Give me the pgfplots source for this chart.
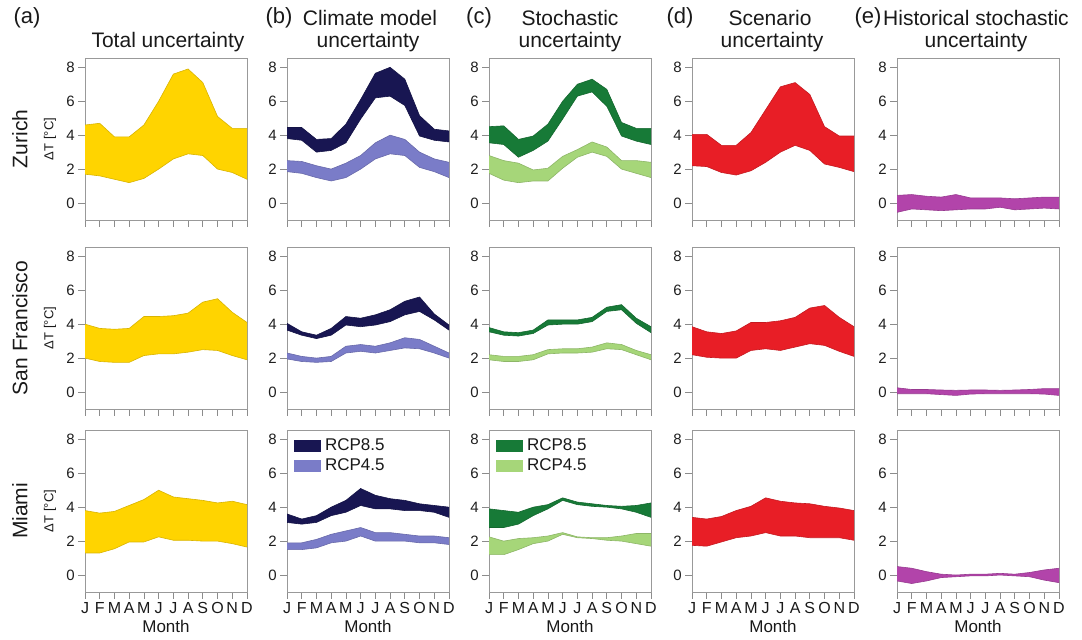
\documentclass[border=0pt]{standalone}
\usepackage{pgfplots}
\pgfplotsset{compat=1.18}
\usepackage{pgfplotstable}
\usepgfplotslibrary{fillbetween}
\usepackage{fontspec}
\setmainfont{Liberation Sans}
\definecolor{cYel}{HTML}{FFD400}
\definecolor{cNavy}{HTML}{181652}
\definecolor{cLBlue}{HTML}{7A7CC8}
\definecolor{cDGreen}{HTML}{177A37}
\definecolor{cLGreen}{HTML}{A6D679}
\definecolor{cRed}{HTML}{E81E26}
\definecolor{cPurp}{HTML}{B244AA}

% ---------------- Zurich ----------------
\pgfplotstableread{
m u l
1 4.6 1.7
2 4.7 1.6
3 3.9 1.4
4 3.9 1.2
5 4.6 1.45
6 6.0 2.0
7 7.6 2.6
8 7.9 2.9
9 7.1 2.8
10 5.1 2.0
11 4.4 1.8
12 4.4 1.4
}\zurA
\pgfplotstableread{
m u l
1 4.45 3.8
2 4.45 3.7
3 3.75 3.0
4 3.8 3.1
5 4.65 3.55
6 6.1 4.95
7 7.65 6.2
8 8.0 6.3
9 7.3 5.75
10 5.15 3.95
11 4.35 3.7
12 4.25 3.6
}\zurBhi
\pgfplotstableread{
m u l
1 2.5 1.85
2 2.45 1.75
3 2.2 1.5
4 2.0 1.3
5 2.35 1.5
6 2.8 2.0
7 3.55 2.6
8 4.0 2.9
9 3.75 2.8
10 3.0 2.1
11 2.6 1.85
12 2.4 1.5
}\zurBlo
\pgfplotstableread{
m u l
1 4.5 3.55
2 4.55 3.45
3 3.75 2.7
4 3.95 3.1
5 4.65 3.65
6 6.0 4.95
7 7.0 6.3
8 7.3 6.55
9 6.7 5.7
10 4.75 3.95
11 4.4 3.65
12 4.4 3.45
}\zurChi
\pgfplotstableread{
m u l
1 2.8 1.75
2 2.5 1.35
3 2.35 1.2
4 1.95 1.3
5 2.05 1.3
6 2.75 2.05
7 3.15 2.7
8 3.6 3.0
9 3.3 2.75
10 2.5 2.0
11 2.5 1.75
12 2.4 1.5
}\zurClo
\pgfplotstableread{
m u l
1 4.05 2.2
2 4.05 2.15
3 3.4 1.8
4 3.4 1.65
5 4.15 1.9
6 5.5 2.4
7 6.85 3.0
8 7.1 3.4
9 6.4 3.1
10 4.5 2.3
11 3.95 2.1
12 3.95 1.85
}\zurD
\pgfplotstableread{
m u l
1 0.45 -0.55
2 0.5 -0.35
3 0.4 -0.4
4 0.35 -0.45
5 0.5 -0.4
6 0.3 -0.35
7 0.3 -0.35
8 0.3 -0.25
9 0.25 -0.4
10 0.3 -0.35
11 0.35 -0.3
12 0.35 -0.35
}\zurE
% ---------------- San Francisco ----------------
\pgfplotstableread{
m u l
1 4.0 2.0
2 3.75 1.8
3 3.7 1.75
4 3.75 1.75
5 4.45 2.15
6 4.45 2.25
7 4.5 2.25
8 4.65 2.35
9 5.3 2.5
10 5.5 2.45
11 4.7 2.15
12 4.1 1.9
}\sfoA
\pgfplotstableread{
m u l
1 4.05 3.65
2 3.55 3.35
3 3.35 3.15
4 3.75 3.35
5 4.45 3.95
6 4.35 3.85
7 4.55 3.95
8 4.85 4.15
9 5.35 4.55
10 5.6 4.75
11 4.6 4.25
12 3.95 3.65
}\sfoBhi
\pgfplotstableread{
m u l
1 2.3 1.95
2 2.1 1.8
3 2.0 1.75
4 2.1 1.8
5 2.7 2.3
6 2.8 2.4
7 2.7 2.3
8 2.9 2.45
9 3.2 2.6
10 3.1 2.55
11 2.7 2.3
12 2.3 2.0
}\sfoBlo
\pgfplotstableread{
m u l
1 3.8 3.55
2 3.55 3.35
3 3.5 3.3
4 3.65 3.45
5 4.25 3.95
6 4.25 4.0
7 4.25 4.0
8 4.4 4.15
9 5.0 4.75
10 5.15 4.85
11 4.35 4.05
12 3.85 3.5
}\sfoChi
\pgfplotstableread{
m u l
1 2.2 1.9
2 2.1 1.8
3 2.1 1.8
4 2.2 1.9
5 2.5 2.25
6 2.55 2.3
7 2.55 2.3
8 2.65 2.35
9 2.9 2.55
10 2.8 2.5
11 2.45 2.2
12 2.2 1.9
}\sfoClo
\pgfplotstableread{
m u l
1 3.85 2.2
2 3.55 2.05
3 3.45 2.0
4 3.6 2.0
5 4.1 2.45
6 4.1 2.55
7 4.2 2.45
8 4.4 2.65
9 4.95 2.85
10 5.1 2.75
11 4.4 2.4
12 3.85 2.1
}\sfoD
\pgfplotstableread{
m u l
1 0.25 -0.1
2 0.15 -0.1
3 0.15 -0.1
4 0.12 -0.15
5 0.1 -0.2
6 0.12 -0.12
7 0.12 -0.1
8 0.1 -0.1
9 0.12 -0.1
10 0.15 -0.1
11 0.2 -0.12
12 0.2 -0.2
}\sfoE
% ---------------- Miami ----------------
\pgfplotstableread{
m u l
1 3.8 1.3
2 3.65 1.3
3 3.75 1.55
4 4.1 1.95
5 4.45 1.95
6 5.0 2.25
7 4.6 2.05
8 4.5 2.05
9 4.4 2.0
10 4.25 2.0
11 4.35 1.85
12 4.15 1.65
}\miaA
\pgfplotstableread{
m u l
1 3.6 3.1
2 3.3 3.0
3 3.5 3.1
4 4.0 3.5
5 4.4 3.7
6 5.1 4.1
7 4.7 3.9
8 4.5 3.9
9 4.4 3.8
10 4.2 3.8
11 4.1 3.7
12 4.0 3.4
}\miaBhi
\pgfplotstableread{
m u l
1 1.9 1.5
2 1.9 1.5
3 2.1 1.6
4 2.4 1.9
5 2.6 2.0
6 2.8 2.3
7 2.5 2.0
8 2.5 2.0
9 2.4 2.0
10 2.3 1.9
11 2.3 1.9
12 2.2 1.8
}\miaBlo
\pgfplotstableread{
m u l
1 3.9 2.8
2 3.8 2.8
3 3.7 3.0
4 4.0 3.5
5 4.15 3.9
6 4.55 4.4
7 4.3 4.15
8 4.2 4.05
9 4.1 4.0
10 4.05 3.9
11 4.1 3.7
12 4.25 3.4
}\miaChi
\pgfplotstableread{
m u l
1 2.25 1.2
2 2.0 1.2
3 2.15 1.5
4 2.2 1.85
5 2.3 2.0
6 2.5 2.4
7 2.25 2.2
8 2.2 2.15
9 2.2 2.05
10 2.3 2.0
11 2.45 1.85
12 2.45 1.7
}\miaClo
\pgfplotstableread{
m u l
1 3.4 1.75
2 3.3 1.7
3 3.45 1.95
4 3.8 2.2
5 4.05 2.3
6 4.55 2.5
7 4.35 2.3
8 4.25 2.3
9 4.2 2.2
10 4.05 2.2
11 3.95 2.2
12 3.8 2.05
}\miaD
\pgfplotstableread{
m u l
1 0.5 -0.35
2 0.4 -0.5
3 0.2 -0.35
4 0.05 -0.15
5 0.0 -0.1
6 0.05 -0.05
7 0.05 -0.05
8 0.1 0.0
9 0.05 -0.05
10 0.15 -0.1
11 0.3 -0.3
12 0.4 -0.45
}\miaE

\newcommand{\band}[3]{%
  \addplot[name path=#3u, draw=#1!85!black, line width=0.3pt, forget plot] table[x=m,y=u]{#2};
  \addplot[name path=#3l, draw=#1!85!black, line width=0.3pt, forget plot] table[x=m,y=l]{#2};
  \addplot[fill=#1, draw=none, forget plot] fill between[of=#3u and #3l];
}

\pgfplotsset{
  panel/.style={
    scale only axis, width=81pt, height=81pt, anchor=south west,
    xmin=1, xmax=12, ymin=-1, ymax=8.55,
    xtick={1,...,12}, ytick={0,2,4,6,8}, xticklabels={},
    axis line style={black!40}, tick style={black!45, line width=0.4pt},
    tick align=outside, xtick pos=bottom, ytick pos=left,
    major tick length=3.5pt,
    /pgf/number format/assume math mode=true,
    yticklabel style={font=\fontsize{7.5}{8}\selectfont, text=black!88, inner sep=1.5pt},
    xticklabel style={font=\fontsize{8}{9}\selectfont, text=black!90, inner sep=1.5pt},
    ylabel style={align=center, text=black!90},
    xlabel style={font=\fontsize{8.5}{9}\selectfont, text=black!90, yshift=2pt},
    clip=true,
  },
  bottom/.style={xticklabels={J,F,M,A,M,J,J,A,S,O,N,D}, xlabel={Month}},
  leg/.style={
    legend style={draw=none, fill=none, at={(0.03,0.985)}, anchor=north west,
      font=\fontsize{8.5}{9}\selectfont, text=black!90, row sep=-1.5pt, inner sep=1pt},
    legend cell align=left,
  },
  lgimg/.style={legend image code/.code={\fill[#1] (0pt,-2.8pt) rectangle (13pt,2.8pt);}},
}

\newcommand{\yl}[1]{{\fontsize{10.5}{11}\selectfont #1}\\[1pt]{\fontsize{6.5}{7}\selectfont ΔT [°C]}}

\begin{document}
\begin{tikzpicture}
% ---------- Row 1: Zurich ----------
\begin{axis}[panel, at={(42.5pt,-110pt)}, ylabel={\yl{Zurich}}]
\band{cYel}{\zurA}{za}
\end{axis}
\begin{axis}[panel, at={(143.5pt,-110pt)}]
\band{cNavy}{\zurBhi}{zbh}
\band{cLBlue}{\zurBlo}{zbl}
\end{axis}
\begin{axis}[panel, at={(244.5pt,-110pt)}]
\band{cDGreen}{\zurChi}{zch}
\band{cLGreen}{\zurClo}{zcl}
\end{axis}
\begin{axis}[panel, at={(346pt,-110pt)}]
\band{cRed}{\zurD}{zd}
\end{axis}
\begin{axis}[panel, at={(448.5pt,-110pt)}]
\band{cPurp}{\zurE}{ze}
\end{axis}
% ---------- Row 2: San Francisco ----------
\begin{axis}[panel, at={(42.5pt,-204.5pt)}, ylabel={\yl{San Francisco}}]
\band{cYel}{\sfoA}{sa}
\end{axis}
\begin{axis}[panel, at={(143.5pt,-204.5pt)}]
\band{cNavy}{\sfoBhi}{sbh}
\band{cLBlue}{\sfoBlo}{sbl}
\end{axis}
\begin{axis}[panel, at={(244.5pt,-204.5pt)}]
\band{cDGreen}{\sfoChi}{sch}
\band{cLGreen}{\sfoClo}{scl}
\end{axis}
\begin{axis}[panel, at={(346pt,-204.5pt)}]
\band{cRed}{\sfoD}{sd}
\end{axis}
\begin{axis}[panel, at={(448.5pt,-204.5pt)}]
\band{cPurp}{\sfoE}{se}
\end{axis}
% ---------- Row 3: Miami ----------
\begin{axis}[panel, bottom, at={(42.5pt,-296pt)}, ylabel={\yl{Miami}}]
\band{cYel}{\miaA}{ma}
\end{axis}
\begin{axis}[panel, bottom, leg, at={(143.5pt,-296pt)}]
\band{cNavy}{\miaBhi}{mbh}
\band{cLBlue}{\miaBlo}{mbl}
\addlegendimage{lgimg=cNavy}
\addlegendentry{RCP8.5}
\addlegendimage{lgimg=cLBlue}
\addlegendentry{RCP4.5}
\end{axis}
\begin{axis}[panel, bottom, leg, at={(244.5pt,-296pt)}]
\band{cDGreen}{\miaChi}{mch}
\band{cLGreen}{\miaClo}{mcl}
\addlegendimage{lgimg=cDGreen}
\addlegendentry{RCP8.5}
\addlegendimage{lgimg=cLGreen}
\addlegendentry{RCP4.5}
\end{axis}
\begin{axis}[panel, bottom, at={(346pt,-296pt)}]
\band{cRed}{\miaD}{md}
\end{axis}
\begin{axis}[panel, bottom, at={(448.5pt,-296pt)}]
\band{cPurp}{\miaE}{me}
\end{axis}
% ---------- Titles ----------
\begin{scope}[every node/.style={text=black!90, inner sep=0pt}]
\node[font=\fontsize{11}{12}\selectfont] at (13.5pt,-9pt) {(a)};
\node[font=\fontsize{11}{12}\selectfont] at (139.5pt,-9pt) {(b)};
\node[font=\fontsize{11}{12}\selectfont] at (239.5pt,-9pt) {(c)};
\node[font=\fontsize{11}{12}\selectfont] at (340pt,-9pt) {(d)};
\node[font=\fontsize{11}{12}\selectfont] at (434pt,-9pt) {(e)};
\node[font=\fontsize{10.5}{12}\selectfont] at (84pt,-21pt) {Total uncertainty};
\node[font=\fontsize{10.5}{12}\selectfont] at (185pt,-9pt) {Climate model};
\node[font=\fontsize{10.5}{12}\selectfont] at (184pt,-21pt) {uncertainty};
\node[font=\fontsize{10.5}{12}\selectfont] at (285pt,-9pt) {Stochastic};
\node[font=\fontsize{10.5}{12}\selectfont] at (285pt,-21pt) {uncertainty};
\node[font=\fontsize{10.5}{12}\selectfont] at (385pt,-9pt) {Scenario};
\node[font=\fontsize{10.5}{12}\selectfont] at (386pt,-21pt) {uncertainty};
\node[font=\fontsize{10.5}{12}\selectfont] at (488pt,-9pt) {Historical stochastic};
\node[font=\fontsize{10.5}{12}\selectfont] at (488pt,-21pt) {uncertainty};
\end{scope}
\pgfresetboundingbox
\path[use as bounding box] (0pt,0pt) rectangle (541pt,-320pt);
\end{tikzpicture}
\end{document}
